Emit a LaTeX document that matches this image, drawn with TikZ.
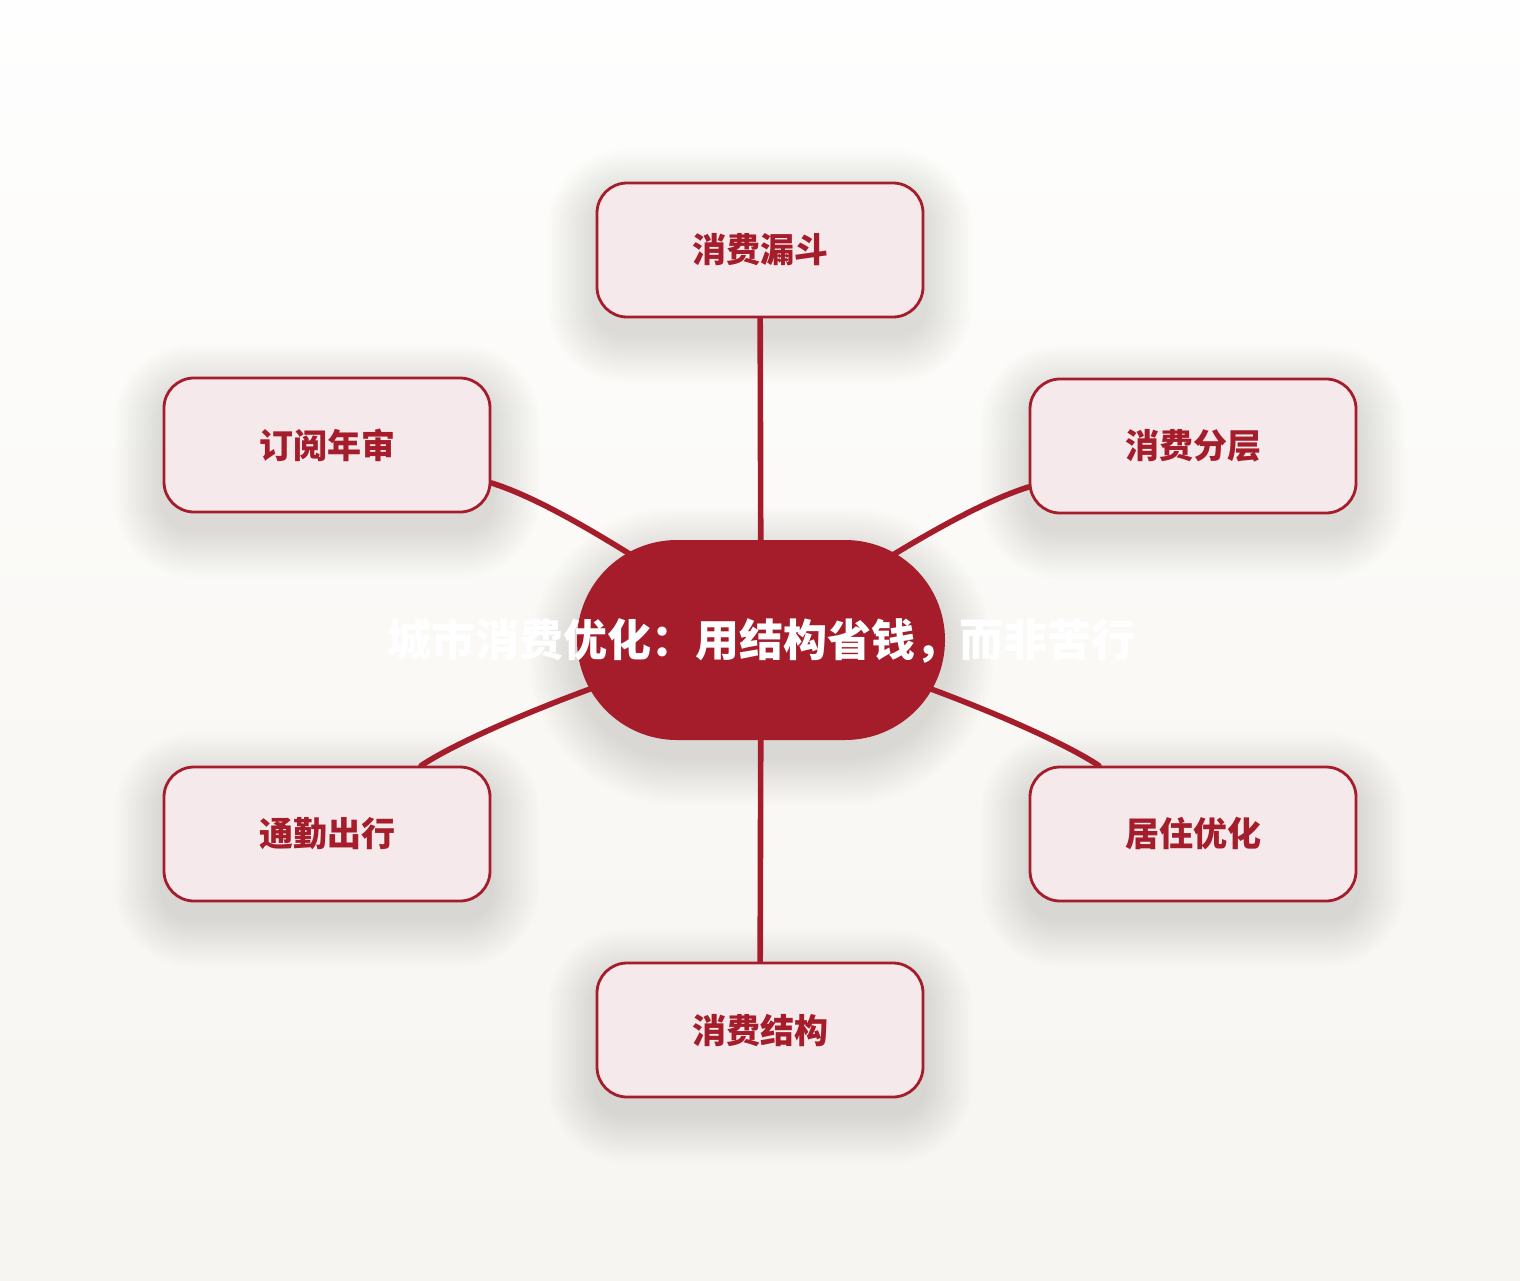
\documentclass[tikz,border=0pt]{standalone}
\usepackage{fontspec}
\setmainfont{Noto Sans CJK SC}
\usetikzlibrary{calc}
\definecolor{crimson}{HTML}{A51C2B}
\definecolor{pinkfill}{HTML}{F5E9EB}
\definecolor{bgtop}{HTML}{FEFEFE}
\definecolor{bgmid}{HTML}{FAF9F6}
\definecolor{bgbot}{HTML}{F7F5F1}
\definecolor{shadowtint}{HTML}{55534A}
\pgfdeclarelayer{back}
\pgfdeclarelayer{shade}
\pgfdeclarelayer{edges}
\pgfsetlayers{back,shade,edges,main}
\begin{document}
\begin{tikzpicture}[x=0.5pt,y=-0.5pt,
  topic/.style={draw=crimson, line width=1.4pt, fill=pinkfill, rounded corners=15pt,
    minimum width=163pt, minimum height=67pt, inner sep=0pt,
    font=\fontsize{17}{20}\selectfont\bfseries, text=crimson},
  hub/.style={fill=crimson, rounded corners=50pt, minimum width=184pt, minimum height=100pt, inner sep=0pt},
  hubtext/.style={text=white, font=\fontsize{22}{26}\selectfont\bfseries, inner sep=0pt},
  link/.style={draw=crimson, line width=2.8pt, line cap=round},
  shadowstep/.style={fill=shadowtint, opacity=0.013}
]
\begin{pgfonlayer}{back}
  \shade[top color=bgtop, bottom color=bgmid] (0,0) rectangle (1520,640);
  \shade[top color=bgmid, bottom color=bgbot] (0,640) rectangle (1520,1280);
\end{pgfonlayer}
\useasboundingbox (0,0) rectangle (1520,1280);

\node[topic] (t)  at (760,250)  {消费漏斗};
\node[topic] (tl) at (327,445)  {订阅年审};
\node[topic] (tr) at (1193,446) {消费分层};
\node[topic] (bl) at (327,834)  {通勤出行};
\node[topic] (br) at (1193,834) {居住优化};
\node[topic] (b)  at (760,1030) {消费结构};
\node[hub] (c) at (761,640) {};
\node[hubtext] (ct) at (761,641) {城市消费优化：用结构省钱，而非苦行};

\begin{pgfonlayer}{shade}
  \foreach \n in {t,tl,tr,bl,br,b}{
    \foreach \k in {1,...,16}{
      \pgfmathsetmacro{\rr}{15+1.5*\k}
      \path[shadowstep, rounded corners=\rr pt]
        ($(\n.south west)+(-3*\k,16+3*\k)$) rectangle ($(\n.north east)+(3*\k,16-3*\k)$);
    }
  }
  \foreach \k in {1,...,16}{
    \pgfmathsetmacro{\rr}{50+1.5*\k}
    \path[shadowstep, rounded corners=\rr pt]
      ($(c.south west)+(-3*\k,16+3*\k)$) rectangle ($(c.north east)+(3*\k,16-3*\k)$);
  }
\end{pgfonlayer}

\begin{pgfonlayer}{edges}
  \draw[link] (t) -- (c);
  \draw[link] (b) -- (c);
  \draw[link] (tl.-13) .. controls +(70,22) and +(-90,-60) .. (c.center);
  \draw[link] (tr.194) .. controls +(-70,22) and +(90,-60) .. (c.center);
  \draw[link] (bl.36) .. controls +(60,-40) and +(-81,10) .. (c.center);
  \draw[link] (br.144) .. controls +(-60,-40) and +(81,10) .. (c.center);
\end{pgfonlayer}
\end{tikzpicture}
\end{document}
